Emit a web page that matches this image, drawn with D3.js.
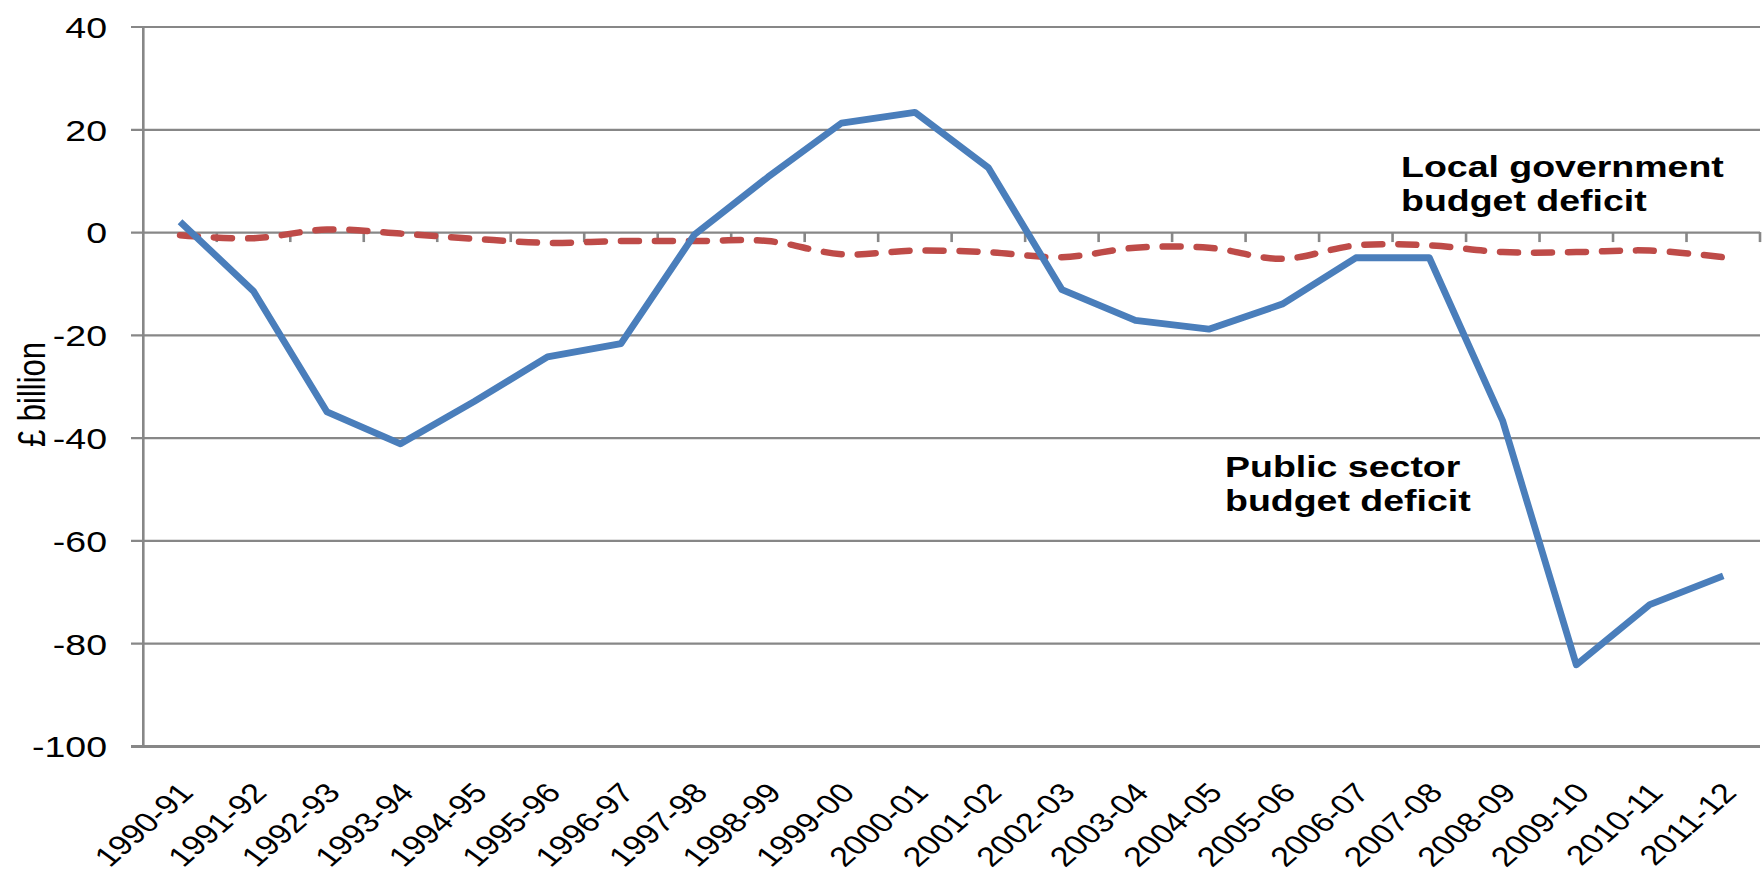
<!DOCTYPE html>
<html><head><meta charset="utf-8">
<script src="https://cdn.jsdelivr.net/npm/d3@7"></script>
<style>body{margin:0;background:#fff}</style>
</head><body><svg id="c" width="1764" height="882"></svg>
<script>
const categories = ["1990-91","1991-92","1992-93","1993-94","1994-95","1995-96","1996-97","1997-98","1998-99","1999-00","2000-01","2001-02","2002-03","2003-04","2004-05","2005-06","2006-07","2007-08","2008-09","2009-10","2010-11","2011-12"];
const publicSector = [2, -11.5, -35, -41.2, -33, -24.3, -21.7, -0.5, 10.7, 21.2, 23.3, 12.5, -11.2, -17.2, -18.9, -14, -5, -5, -36.8, -84.2, -72.5, -66.9];
const localGov = [-0.6, -1.2, 0.5, -0.3, -1.3, -2.1, -1.75, -1.75, -1.75, -4.3, -3.6, -3.9, -4.9, -3.05, -3.05, -5.2, -2.6, -2.6, -3.9, -3.9, -3.6, -4.9];
const yTicks = [40, 20, 0, -20, -40, -60, -80, -100];
const yTitle = "£ billion";
const labelLocal = ["Local government", "budget deficit"];
const labelPublic = ["Public sector", "budget deficit"];

const SX = 1.25; // horizontal stretch of the reference
const svg = d3.select("#c");
const pL = 143.3, pR = 1760, pT = 26.5, pB = 746;
const x = d3.scaleBand().domain(categories).range([pL, pR]);
const y = d3.scaleLinear().domain([-100, 40]).range([pB, pT]);
const bw = x.bandwidth();
const font = "'Liberation Sans', Arial, sans-serif";
const grid = "#878787";

// gridlines + y labels
const yAxis = svg.append("g").attr("transform", `translate(131,0)`)
  .call(d3.axisLeft(y).tickValues(yTicks).tickSizeInner(-(pR - 131)).tickSizeOuter(0).tickPadding(24).tickFormat(d3.format("d")));
yAxis.select(".domain").remove();
yAxis.selectAll(".tick line").attr("stroke", grid).attr("stroke-width", d => d === -100 ? 3 : 2.2);
yAxis.selectAll(".tick text")
  .attr("x", -24 / SX).attr("dy", "0.36em")
  .attr("transform", `scale(${SX},1)`)
  .attr("font-family", font).attr("font-size", 30).attr("fill", "#000")
  .text(d => d < 0 ? "-" + Math.abs(d) : d);

// vertical axis line
svg.append("line").attr("x1", pL).attr("x2", pL).attr("y1", pT).attr("y2", pB + 1)
  .attr("stroke", grid).attr("stroke-width", 2.6);

// x tick marks at zero line
svg.append("g").selectAll("line").data(categories).join("line")
  .attr("x1", d => x(d) + bw).attr("x2", d => x(d) + bw)
  .attr("y1", y(0)).attr("y2", y(0) + 10)
  .attr("stroke", grid).attr("stroke-width", 2.6);

// x labels
const xAxis = svg.append("g").attr("transform", `translate(0,${pB})`)
  .call(d3.axisBottom(x).tickSize(0).tickPadding(0));
xAxis.select(".domain").remove();
xAxis.selectAll(".tick text")
  .attr("x", 0).attr("y", 0).attr("dy", 0)
  .attr("text-anchor", "end")
  .attr("transform", `translate(15,48) scale(${SX},1) rotate(-47.4)`)
  .attr("font-family", font).attr("font-size", 27.5).attr("fill", "#000");

// lines
const px = (d, i) => x(categories[i]) + bw / 2;
svg.append("path").datum(localGov)
  .attr("d", d3.line().x(px).y(v => y(v)).curve(d3.curveCatmullRom.alpha(0)))
  .attr("fill", "none").attr("stroke", "#BE4B48").attr("stroke-width", 6.5)
  .attr("stroke-dasharray", "18,16").attr("stroke-linecap", "round");
svg.append("path").datum(publicSector)
  .attr("d", d3.line().x(px).y(v => y(v)))
  .attr("fill", "none").attr("stroke", "#4A7EBB").attr("stroke-width", 6.8)
  .attr("stroke-linejoin", "round");

// y title
svg.append("text").attr("transform", `translate(45,394.5) scale(${SX},1) rotate(-90)`)
  .attr("text-anchor", "middle").attr("font-family", font).attr("font-size", 31).attr("fill", "#000")
  .text(yTitle);

// annotations
function note(lines, x0, y0) {
  const t = svg.append("text").attr("transform", `translate(${x0},${y0}) scale(${SX},1)`)
    .attr("font-family", font).attr("font-weight", "bold").attr("font-size", 30).attr("fill", "#000");
  lines.forEach((s, i) => t.append("tspan").attr("x", 0).attr("y", i * 34.5).text(s));
}
note(labelLocal, 1401, 176.7);
note(labelPublic, 1225, 477);
</script></body></html>
